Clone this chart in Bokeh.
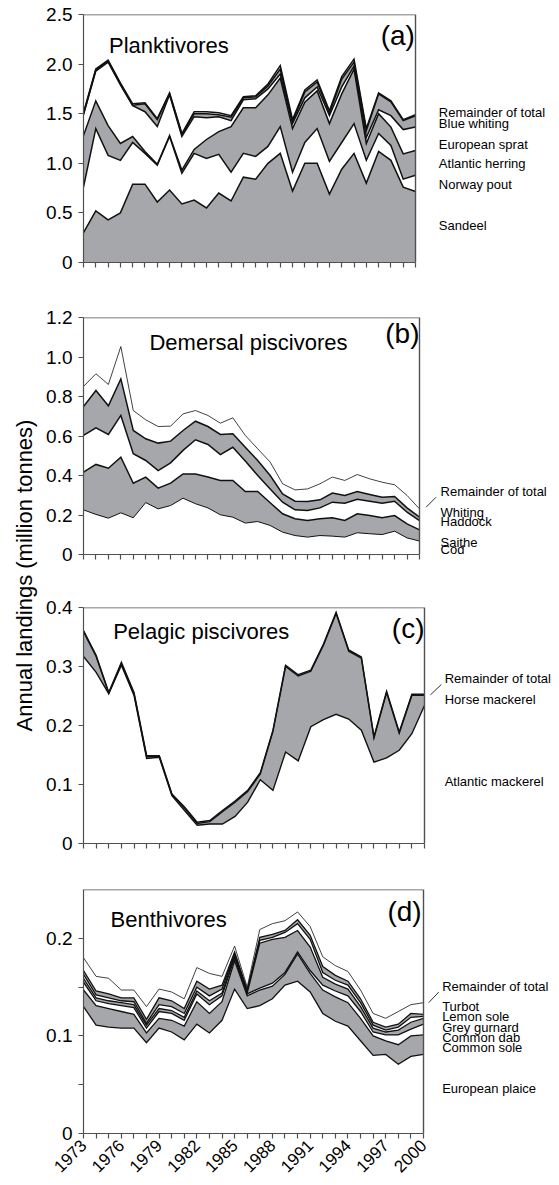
import numpy as np
from bokeh.plotting import figure
from bokeh.layouts import column, row
from bokeh.models import ColumnDataSource, Range1d, FixedTicker, Label
from bokeh.transform import stack
from bokeh.core.properties import value
from bokeh.embed import file_html
from bokeh.resources import INLINE

FONT = "Liberation Sans"
GRAY = "#a6a7ab"
WHITE = "#ffffff"
AX = "#505050"
INK = "#111111"

years = list(range(1973, 2001))
year_labels = [str(y) if (y - 1973) % 3 == 0 else "" for y in years]

# ---------------- (a) Planktivores (million tonnes) ----------------
plank_names = ["Sandeel", "Norway pout", "Atlantic herring", "European sprat",
               "Blue whiting", "Remainder of total"]
sandeel = [0.30, 0.52, 0.43, 0.50, 0.79, 0.79, 0.61, 0.73, 0.59, 0.63, 0.55, 0.70, 0.62, 0.86,
           0.84, 1.00, 1.10, 0.72, 1.00, 1.00, 0.69, 0.94, 1.10, 0.80, 1.12, 1.03, 0.76, 0.715]
norway_pout = [0.46, 0.83, 0.65, 0.53, 0.42, 0.31, 0.37, 0.54, 0.31, 0.47, 0.50, 0.39, 0.29, 0.24,
               0.23, 0.17, 0.27, 0.19, 0.21, 0.35, 0.33, 0.27, 0.30, 0.23, 0.18, 0.15, 0.08, 0.165]
atlantic_herring = [0.52, 0.28, 0.30, 0.17, 0.06, 0.02, 0.01, 0.01, 0.03, 0.04, 0.19, 0.23, 0.46, 0.46,
                    0.49, 0.52, 0.49, 0.44, 0.405, 0.38, 0.38, 0.49, 0.55, 0.17, 0.20, 0.185, 0.255, 0.25]
european_sprat = [0.21, 0.30, 0.64, 0.59, 0.31, 0.40, 0.38, 0.41, 0.34, 0.33, 0.22, 0.15, 0.06, 0.08,
                  0.09, 0.06, 0.04, 0.05, 0.045, 0.04, 0.08, 0.07, 0.03, 0.06, 0.04, 0.115, 0.245, 0.235]
blue_whiting = [0.01, 0.01, 0.01, 0.01, 0.005, 0.08, 0.07, 0.01, 0.02, 0.03, 0.04, 0.02, 0.035, 0.02,
                0.02, 0.03, 0.05, 0.02, 0.06, 0.05, 0.025, 0.08, 0.04, 0.07, 0.16, 0.14, 0.09, 0.115]
remainder_a = [0.01, 0.01, 0.01, 0.01, 0.015, 0.01, 0.01, 0.01, 0.01, 0.02, 0.02, 0.02, 0.015, 0.01,
               0.01, 0.02, 0.035, 0.02, 0.02, 0.02, 0.025, 0.025, 0.03, 0.02, 0.01, 0.01, 0.01, 0.01]

# ---------------- (b) Demersal piscivores ----------------
dem_names = ["Cod", "Saithe", "Haddock", "Whiting", "Remainder of total"]
cod = [0.226, 0.203, 0.184, 0.211, 0.186, 0.263, 0.231, 0.248, 0.285, 0.257, 0.236, 0.201, 0.189, 0.159,
       0.167, 0.147, 0.113, 0.096, 0.088, 0.096, 0.093, 0.088, 0.110, 0.105, 0.101, 0.118, 0.084, 0.068]
saithe = [0.191, 0.253, 0.253, 0.282, 0.175, 0.129, 0.105, 0.113, 0.123, 0.151, 0.156, 0.174, 0.186, 0.160,
          0.152, 0.115, 0.093, 0.085, 0.084, 0.085, 0.093, 0.084, 0.096, 0.092, 0.085, 0.079, 0.071, 0.057]
haddock = [0.186, 0.185, 0.171, 0.211, 0.149, 0.084, 0.089, 0.103, 0.119, 0.173, 0.165, 0.131, 0.168, 0.154,
           0.081, 0.070, 0.059, 0.045, 0.051, 0.055, 0.079, 0.088, 0.074, 0.073, 0.074, 0.073, 0.059, 0.047]
whiting = [0.146, 0.189, 0.145, 0.185, 0.118, 0.110, 0.139, 0.110, 0.101, 0.094, 0.091, 0.102, 0.068, 0.070,
           0.076, 0.068, 0.042, 0.044, 0.045, 0.041, 0.046, 0.039, 0.039, 0.034, 0.030, 0.024, 0.022, 0.017]
remainder_b = [0.102, 0.085, 0.108, 0.164, 0.101, 0.096, 0.084, 0.076, 0.084, 0.054, 0.056, 0.057, 0.081, 0.060,
               0.059, 0.068, 0.051, 0.057, 0.064, 0.081, 0.081, 0.076, 0.086, 0.079, 0.076, 0.059, 0.063, 0.042]

# ---------------- (c) Pelagic piscivores ----------------
pel_names = ["Atlantic mackerel", "Horse mackerel", "Remainder of total"]
atlantic_mackerel = [0.317, 0.290, 0.254, 0.302, 0.251, 0.144, 0.146, 0.081, 0.056, 0.031, 0.033, 0.033, 0.046, 0.070,
                     0.108, 0.090, 0.155, 0.140, 0.198, 0.210, 0.219, 0.211, 0.192, 0.138, 0.145, 0.158, 0.186, 0.234]
horse_mackerel = [0.042, 0.027, 0.001, 0.003, 0.003, 0.003, 0.002, 0.002, 0.004, 0.003, 0.004, 0.021, 0.024, 0.018,
                  0.010, 0.100, 0.145, 0.144, 0.094, 0.126, 0.171, 0.115, 0.122, 0.041, 0.111, 0.029, 0.065, 0.017]
remainder_c = [0.002, 0.002, 0.001, 0.002, 0.002, 0.002, 0.001, 0.001, 0.002, 0.002, 0.002, 0.002, 0.002, 0.002,
               0.002, 0.002, 0.002, 0.002, 0.002, 0.002, 0.002, 0.002, 0.002, 0.002, 0.002, 0.002, 0.002, 0.002]

# ---------------- (d) Benthivores ----------------
ben_names = ["European plaice", "Common sole", "Common dab", "Grey gurnard", "Lemon sole", "Turbot",
             "Remainder of total"]
european_plaice = [0.130, 0.111, 0.109, 0.108, 0.108, 0.093, 0.108, 0.104, 0.096, 0.112, 0.103, 0.116, 0.148, 0.128,
                   0.131, 0.138, 0.152, 0.156, 0.145, 0.123, 0.115, 0.110, 0.095, 0.080, 0.081, 0.071, 0.079, 0.081]
common_sole = [0.017, 0.020, 0.019, 0.017, 0.014, 0.010, 0.010, 0.012, 0.014, 0.023, 0.020, 0.019, 0.029, 0.013,
               0.016, 0.013, 0.011, 0.028, 0.019, 0.024, 0.025, 0.024, 0.023, 0.020, 0.014, 0.020, 0.021, 0.020]
common_dab = [0.008, 0.005, 0.005, 0.006, 0.007, 0.005, 0.007, 0.007, 0.006, 0.008, 0.009, 0.006, 0.003, 0.002,
              0.002, 0.003, 0.002, 0.002, 0.003, 0.005, 0.006, 0.007, 0.007, 0.004, 0.006, 0.010, 0.007, 0.011]
grey_gurnard = [0.004, 0.003, 0.003, 0.003, 0.003, 0.003, 0.003, 0.003, 0.003, 0.003, 0.004, 0.003, 0.002, 0.001,
                0.046, 0.045, 0.036, 0.022, 0.024, 0.008, 0.007, 0.007, 0.005, 0.004, 0.003, 0.005, 0.007, 0.006]
lemon_sole = [0.004, 0.003, 0.003, 0.002, 0.003, 0.002, 0.004, 0.004, 0.004, 0.004, 0.005, 0.004, 0.002, 0.002,
              0.003, 0.002, 0.005, 0.007, 0.008, 0.005, 0.004, 0.004, 0.004, 0.003, 0.002, 0.003, 0.005, 0.002]
turbot = [0.004, 0.004, 0.004, 0.003, 0.004, 0.004, 0.007, 0.006, 0.005, 0.006, 0.007, 0.004, 0.002, 0.001,
          0.003, 0.003, 0.002, 0.004, 0.004, 0.006, 0.005, 0.004, 0.004, 0.003, 0.003, 0.003, 0.004, 0.002]
remainder_d = [0.013, 0.015, 0.016, 0.008, 0.008, 0.013, 0.009, 0.009, 0.010, 0.014, 0.016, 0.009, 0.006, 0.003,
               0.008, 0.011, 0.010, 0.008, 0.009, 0.010, 0.010, 0.010, 0.009, 0.009, 0.009, 0.013, 0.009, 0.012]

# y ticks and their labels
a_ticks, a_tlabels = [0, 0.5, 1, 1.5, 2, 2.5], ["0", "0.5", "1.0", "1.5", "2.0", "2.5"]
b_ticks, b_tlabels = [0, 0.2, 0.4, 0.6, 0.8, 1, 1.2], ["0", "0.2", "0.4", "0.6", "0.8", "1.0", "1.2"]
c_ticks, c_tlabels = [0, 0.1, 0.2, 0.3, 0.4], ["0", "0.1", "0.2", "0.3", "0.4"]
d_ticks, d_tlabels = [0, 0.05, 0.1, 0.15, 0.2], ["0", "", "0.1", "", "0.2"]

STRIP_W = 38
PANEL_W = 559 - STRIP_W


def make_panel(cfg):
    names = cfg["names"]
    keys = ["s%d" % i for i in range(len(names))]
    src = ColumnDataSource(dict(year=years, **dict(zip(keys, cfg["series"]))))
    p = figure(width=PANEL_W, height=cfg["height"], x_range=Range1d(1973, cfg["x_end"]),
               y_range=Range1d(0, cfg["ymax"]), output_backend="svg", toolbar_location=None,
               min_border_left=45, min_border_right=0, min_border_top=cfg["btop"],
               min_border_bottom=cfg["bbot"])
    p.outline_line_color = None
    p.grid.visible = False
    p.varea_stack(stackers=keys, x="year", color=cfg["fills"], source=src)
    for i in range(len(keys)):
        p.line(x="year", y=stack(*keys[:i + 1]), source=src, line_color=INK,
               line_width=cfg["lw"][i], line_join="miter")
    # right and top sides of the box
    p.line(x=[1973, 2000, 2000], y=[cfg["ymax"], cfg["ymax"], 0], line_color=AX, line_width=1.4)

    xa = p.xaxis[0]
    ya = p.yaxis[0]
    xa.ticker = FixedTicker(ticks=years)
    xa.bounds = (1973, 2000)
    ya.ticker = FixedTicker(ticks=cfg["ticks"])
    ya.major_label_overrides = dict(zip(cfg["ticks"], cfg["tlabels"]))
    for ax in (xa, ya):
        ax.axis_line_color = AX
        ax.axis_line_width = 1.2
        ax.major_tick_line_color = AX
        ax.major_tick_line_width = 1.2
        ax.minor_tick_line_color = None
        ax.major_tick_out = 5
        ax.major_tick_in = 0
        ax.major_label_text_font = FONT
        ax.major_label_text_color = "black"
    ya.major_label_text_font_size = "19px"
    ya.major_label_standoff = 6
    if cfg["xlabels"]:
        xa.major_label_overrides = dict(zip(years, year_labels))
        xa.major_label_text_font_size = "17px"
        xa.major_label_orientation = np.pi / 4
        xa.major_label_standoff = 4
    else:
        xa.major_label_overrides = {y: "" for y in years}
        xa.major_label_text_font_size = "0px"

    # title and panel letter
    p.text(x=[cfg["title_xy"][0]], y=[cfg["title_xy"][1]], text=[cfg["title"]],
           text_font=value(FONT), text_font_size=value("22px"), text_align="left",
           text_baseline="middle", text_color="black")
    p.text(x=[cfg["letter_xy"][0]], y=[cfg["letter_xy"][1]], text=[cfg["letter"]],
           text_font=value(FONT), text_font_size=value("28px"), text_align="right",
           text_baseline="middle", text_color="black")
    # species labels on the right
    for name, yy in zip(names, cfg["lab_y"]):
        p.add_layout(Label(x=cfg["lab_x"], y=yy, text=name, text_font=FONT,
                           text_font_size="13px", text_align="left", text_baseline="middle",
                           text_color="black"))
    if cfg.get("leader"):
        (x0, y0), (x1, y1) = cfg["leader"]
        p.segment(x0=[x0], y0=[y0], x1=[x1], y1=[y1], line_color="#333333", line_width=1)
    return p


pa = make_panel(dict(names=plank_names,
                     series=[sandeel, norway_pout, atlantic_herring, european_sprat, blue_whiting, remainder_a],
                     fills=[GRAY, WHITE, GRAY, WHITE, GRAY, WHITE], lw=[1.5] * 6,
                     height=290, btop=14, bbot=28, x_end=2011.71, ymax=2.5,
                     ticks=a_ticks, tlabels=a_tlabels, xlabels=False,
                     title="Planktivores", title_xy=(1975.07, 2.19),
                     letter="(a)", letter_xy=(1999.95, 2.29),
                     lab_x=2001.9, lab_y=[0.373, 0.790, 0.994, 1.190, 1.403, 1.512]))

pb = make_panel(dict(names=dem_names,
                     series=[cod, saithe, haddock, whiting, remainder_b],
                     fills=[WHITE, GRAY, WHITE, GRAY, WHITE], lw=[1.0, 1.5, 1.5, 1.5, 0.8],
                     height=292, btop=27, bbot=28, x_end=2011.25, ymax=1.2,
                     ticks=b_ticks, tlabels=b_tlabels, xlabels=False,
                     title="Demersal piscivores", title_xy=(1978.3, 1.075),
                     letter="(b)", letter_xy=(2000.0, 1.117),
                     lab_x=2001.69, lab_y=[0.024, 0.060, 0.167, 0.214, 0.320],
                     leader=((2000.53, 0.2395), (2001.33, 0.290))))

pc = make_panel(dict(names=pel_names,
                     series=[atlantic_mackerel, horse_mackerel, remainder_c],
                     fills=[WHITE, GRAY, WHITE], lw=[1.4, 1.4, 1.4],
                     height=287, btop=25, bbot=26, x_end=2010.69, ymax=0.4,
                     ticks=c_ticks, tlabels=c_tlabels, xlabels=False,
                     title="Pelagic piscivores", title_xy=(1975.35, 0.3588),
                     letter="(c)", letter_xy=(2000.0, 0.3644),
                     lab_x=2001.6, lab_y=[0.1045, 0.2446, 0.2797],
                     leader=((2000.47, 0.252), (2001.34, 0.2695))))

pd_ = make_panel(dict(names=ben_names,
                      series=[european_plaice, common_sole, common_dab, grey_gurnard, lemon_sole, turbot,
                              remainder_d],
                      fills=[WHITE, GRAY, WHITE, GRAY, WHITE, GRAY, WHITE], lw=[1.3] * 6 + [0.8],
                      height=314, btop=20, bbot=50, x_end=2010.80, ymax=0.25,
                      ticks=d_ticks, tlabels=d_tlabels, xlabels=True,
                      title="Benthivores", title_xy=(1975.15, 0.2197),
                      letter="(d)", letter_xy=(1999.85, 0.2274),
                      lab_x=2001.48, lab_y=[0.0462, 0.0885, 0.0988, 0.1091, 0.1200, 0.1303, 0.1508],
                      leader=((2000.42, 0.1341), (2001.21, 0.1449))))

# shared y-axis title in a narrow strip on the left
TOTAL_H = 290 + 292 + 287 + 314
lab = figure(width=STRIP_W, height=TOTAL_H, x_range=Range1d(0, STRIP_W), y_range=Range1d(0, TOTAL_H),
             x_axis_type=None, y_axis_type=None, output_backend="svg", toolbar_location=None,
             min_border=0)
lab.outline_line_color = None
lab.grid.visible = False
lab.text(x=[24], y=[TOTAL_H - 575], text=["Annual landings (million tonnes)"], angle=np.pi / 2,
         text_font=value(FONT), text_font_size=value("22px"), text_align="center",
         text_baseline="middle", text_color="black")

layout = row(lab, column(pa, pb, pc, pd_))
open("out.html", "w").write(file_html(layout, INLINE))
